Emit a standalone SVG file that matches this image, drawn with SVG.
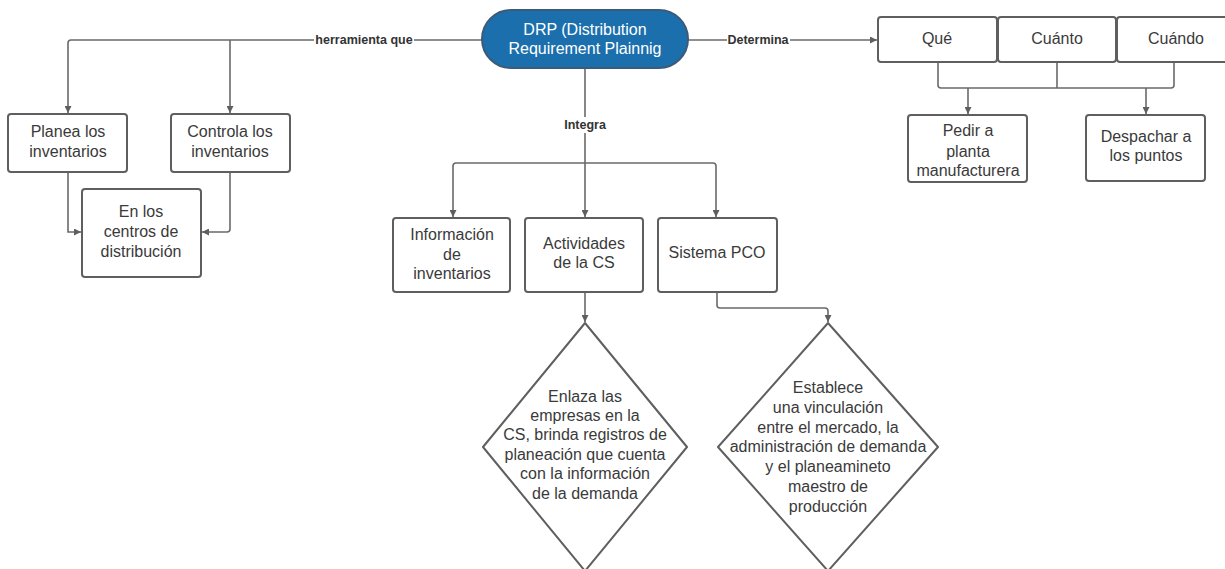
<svg xmlns="http://www.w3.org/2000/svg" width="1225" height="569" viewBox="0 0 1225 569">
<style>
.box{fill:#fff;stroke:#5f5f5f;stroke-width:2}
.t{font-family:"Liberation Sans",Arial,sans-serif;font-size:16px;fill:#3a3a3a;text-anchor:middle}
.lbl{font-family:"Liberation Sans",Arial,sans-serif;font-size:12.5px;font-weight:bold;fill:#333;text-anchor:middle}
.c{fill:none;stroke:#6a6a6a;stroke-width:1.6}
</style>
<defs>
<marker id="ah" viewBox="0 0 10 10" refX="10" refY="5" markerWidth="7" markerHeight="7" markerUnits="userSpaceOnUse" orient="auto">
<path d="M0,0 L10,5 L0,10 z" fill="#5f5f5f"/>
</marker>
</defs>
<rect width="1225" height="569" fill="#fff"/>
<g id="connectors">
<path class="c" d="M482,40 H71 Q68,40 68,43 V113" marker-end="url(#ah)"/>
<path class="c" d="M230,40 V113" marker-end="url(#ah)"/>
<path class="c" d="M688,40 H877" marker-end="url(#ah)"/>
<path class="c" d="M585,68 V217" marker-end="url(#ah)"/>
<path class="c" d="M585,163 H456 Q453,163 453,166 V217" marker-end="url(#ah)"/>
<path class="c" d="M585,163 H713 Q716,163 716,166 V217" marker-end="url(#ah)"/>
<path class="c" d="M68,172 V232 H81" marker-end="url(#ah)"/>
<path class="c" d="M230,172 V229 Q230,232 227,232 H202" marker-end="url(#ah)"/>
<path class="c" d="M938,62 V85 Q938,88 941,88 H1171 Q1174,88 1174,85 V62"/>
<path class="c" d="M1057,62 V88"/>
<path class="c" d="M968,88 V114" marker-end="url(#ah)"/>
<path class="c" d="M1146,88 V114" marker-end="url(#ah)"/>
<path class="c" d="M585,292 V322" marker-end="url(#ah)"/>
<path class="c" d="M717,292 V305 Q717,308 720,308 H825 Q828,308 828,311 V322" marker-end="url(#ah)"/>
<rect x="314" y="32" width="100" height="16" fill="#fff"/>
<text class="lbl" x="364" y="44">herramienta que</text>
<rect x="727" y="32" width="63" height="16" fill="#fff"/>
<text class="lbl" x="758" y="44">Determina</text>
<rect x="563" y="117" width="44" height="16" fill="#fff"/>
<text class="lbl" x="585" y="129">Integra</text>
</g>
<g id="drp">
<rect x="482" y="10" width="206" height="58" rx="29" fill="#1b6fad" stroke="#3d5a78" stroke-width="2"/>
<text class="t" x="585" y="35" style="fill:#fff">DRP (Distribution</text>
<text class="t" x="585" y="54" style="fill:#fff">Requirement Plainnig</text>
</g>
<g id="planea">
<rect class="box" x="8" y="114" width="119" height="58" rx="3"/>
<text class="t" x="68" y="137">Planea los</text>
<text class="t" x="68" y="157">inventarios</text>
</g>
<g id="controla">
<rect class="box" x="171" y="114" width="119" height="58" rx="3"/>
<text class="t" x="230" y="137">Controla los</text>
<text class="t" x="230" y="157">inventarios</text>
</g>
<g id="centros">
<rect class="box" x="82" y="189" width="119" height="88" rx="3"/>
<text class="t" x="141" y="217">En los</text>
<text class="t" x="141" y="237">centros de</text>
<text class="t" x="141" y="257">distribución</text>
</g>
<g id="que">
<rect class="box" x="878" y="17" width="119" height="45" rx="3"/>
<text class="t" x="937" y="44">Qué</text>
</g>
<g id="cuanto">
<rect class="box" x="998" y="17" width="118" height="45" rx="3"/>
<text class="t" x="1057" y="44">Cuánto</text>
</g>
<g id="cuando">
<rect class="box" x="1117" y="17" width="118" height="45" rx="3"/>
<text class="t" x="1176" y="44">Cuándo</text>
</g>
<g id="pedir">
<rect class="box" x="908" y="115" width="119" height="67" rx="3"/>
<text class="t" x="968" y="136">Pedir a</text>
<text class="t" x="968" y="157">planta</text>
<text class="t" x="968" y="176">manufacturera</text>
</g>
<g id="despachar">
<rect class="box" x="1086" y="115" width="119" height="66" rx="3"/>
<text class="t" x="1146" y="142">Despachar a</text>
<text class="t" x="1146" y="161">los puntos</text>
</g>
<g id="informacion">
<rect class="box" x="393" y="218" width="117" height="74" rx="3"/>
<text class="t" x="452" y="240">Información</text>
<text class="t" x="452" y="260">de</text>
<text class="t" x="452" y="279">inventarios</text>
</g>
<g id="actividades">
<rect class="box" x="525" y="218" width="118" height="74" rx="3"/>
<text class="t" x="584" y="249">Actividades</text>
<text class="t" x="584" y="268">de la CS</text>
</g>
<g id="pco">
<rect class="box" x="658" y="218" width="119" height="74" rx="3"/>
<text class="t" x="717" y="258">Sistema PCO</text>
</g>
<g id="enlaza">
<path class="box" d="M585,323 L687,447 L585,571 L483,447 Z" stroke-linejoin="round"/>
<text class="t" x="585" y="402">Enlaza las</text>
<text class="t" x="585" y="421">empresas en la</text>
<text class="t" x="585" y="440">CS, brinda registros de</text>
<text class="t" x="585" y="460">planeación que cuenta</text>
<text class="t" x="585" y="479">con la información</text>
<text class="t" x="585" y="499">de la demanda</text>
</g>
<g id="establece">
<path class="box" d="M828,323 L938,447 L828,571 L718,447 Z" stroke-linejoin="round"/>
<text class="t" x="828" y="393">Establece</text>
<text class="t" x="828" y="413">una vinculación</text>
<text class="t" x="828" y="433">entre el mercado, la</text>
<text class="t" x="828" y="452">administración de demanda</text>
<text class="t" x="828" y="472">y el planeamineto</text>
<text class="t" x="828" y="492">maestro de</text>
<text class="t" x="828" y="512">producción</text>
</g>
</svg>
